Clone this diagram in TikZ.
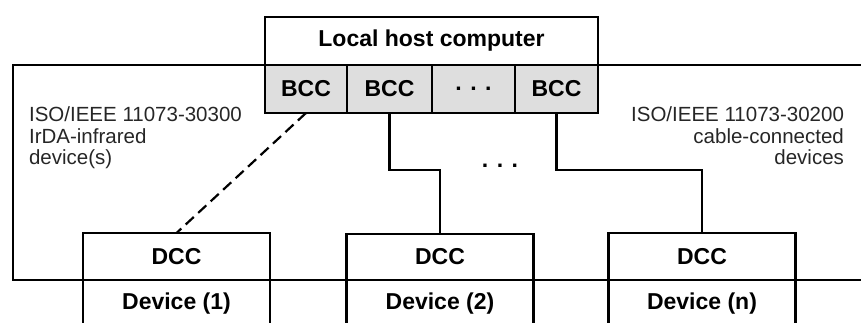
\documentclass[tikz,border=0pt]{standalone}
\usepackage{fontspec}
\setmainfont{Liberation Sans}
\usetikzlibrary{calc, positioning}
\tikzstyle{block} = [draw, rectangle, inner sep=0pt, outer sep=0pt,
    minimum height=48pt, font=\fontsize{23}{26}\selectfont\bfseries]
\tikzstyle{bcc} = [block, fill=black!13]
\tikzstyle{note} = [inner sep=0pt, font=\fontsize{20.5}{21.5}\selectfont, text=black!85]

\begin{document}
\begin{tikzpicture}[x=1pt, y=-1pt, line width=2.2pt]
            \useasboundingbox (0,0) rectangle (861,323);
            % open frame round the devices
            \coordinate (frame_ne) at (875,65);
            \coordinate (frame_nw) at (13,65);
            \coordinate (frame_sw) at (13,280);
            \coordinate (frame_se) at (875,280);
            \draw (frame_ne) -- (frame_nw) -- (frame_sw) -- (frame_se);

            \node[block, name=host, minimum width=333pt] at (431.5,41) {Local host computer};
            \node[bcc, name=bcc1, minimum width=82pt] at (306,89) {BCC};
            \node[bcc, name=bcc2, minimum width=85pt] at (389.5,89) {BCC};
            \node[bcc, name=bccdots, minimum width=83pt] at (473.5,89) {. . .};
            \node[bcc, name=bccn, minimum width=83pt] at (556.5,89) {BCC};

            \node[block, name=dcc1, minimum width=187pt, minimum height=47pt] at (176.5,256.5) {DCC};
            \node[block, name=dev1, minimum width=187pt, below=0pt of dcc1] {Device (1)};
            \node[block, name=dcc2, minimum width=187pt, minimum height=46pt] at (440,257) {DCC};
            \node[block, name=dev2, minimum width=187pt, below=0pt of dcc2] {Device (2)};
            \node[block, name=dccn, minimum width=187pt, minimum height=47pt] at (702,256.5) {DCC};
            \node[block, name=devn, minimum width=187pt, below=0pt of dccn] {Device (n)};

            \draw[dash pattern=on 11pt off 6pt] (bcc1.south) -- (dcc1.north);
            \draw (bcc2.south) -- ++(0,57) -| (dcc2.north);
            \draw (bccn.south) -- ++(0,57) -| (dccn.north);

            \node[name=moredots, font=\fontsize{23}{26}\selectfont\bfseries] at (500,166) {. . .};
            \node[note, name=irda, anchor=north west, align=left] at (28,106) {ISO/IEEE 11073-30300\\IrDA-infrared\\device(s)};
            \node[note, name=cable, anchor=north east, align=right] at (845,106) {ISO/IEEE 11073-30200\\cable-connected\\devices};
        \end{tikzpicture}
\end{document}
